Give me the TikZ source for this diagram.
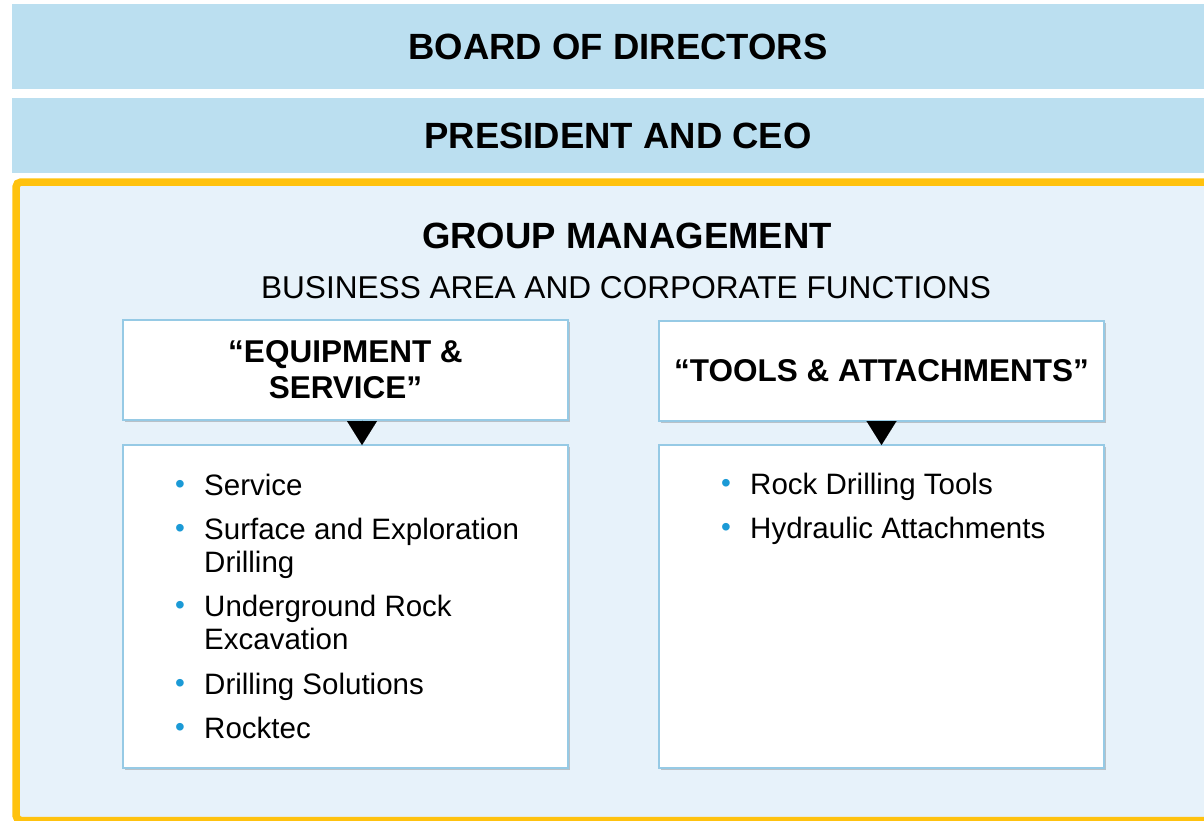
\documentclass[tikz,border=0pt]{standalone}
\usepackage{fontspec}
\setmainfont{Liberation Sans}
\usepackage{tikz}
\usetikzlibrary{arrows.meta,shadows}

\definecolor{barblue}{HTML}{BBDFF0}
\definecolor{gmfill}{HTML}{E7F2FA}
\definecolor{gmyellow}{HTML}{FFC20E}
\definecolor{boxline}{HTML}{96CAE5}
\definecolor{bulletblue}{HTML}{1B9AD6}

\newcommand{\bul}{\makebox[29pt][l]{\raisebox{2pt}{\textcolor{bulletblue}{\fontsize{28}{28}\selectfont\textbullet}}}}
\newcommand{\ind}{\hspace*{29pt}}

\begin{document}
\begin{tikzpicture}[x=1pt,y=-1pt,
    bar/.style={fill=barblue, minimum width=1212, inner sep=0, outer sep=0,
        font=\bfseries\fontsize{36.5}{40}\selectfont},
    unitbox/.style={draw=boxline, line width=2.6, fill=white, outer sep=0,
        minimum width=445, drop shadow={shadow xshift=2pt, shadow yshift=-2pt, fill=black, opacity=0.2}},
    items/.style={align=left, inner sep=0, font=\fontsize{29.5}{33.2}\selectfont},
    tri/.style={-{Triangle[width=30pt,length=24pt]}, line width=0.01pt}]
    \useasboundingbox (0,0) rectangle (1204,820);
    \clip (0,0) rectangle (1204,820);

    \node[bar, minimum height=85] (board) at (618,46.5) {BOARD OF DIRECTORS};
    \node[bar, minimum height=75] (ceo) at (618,135.5) {PRESIDENT AND CEO};

    % group management frame
    \draw[line width=7.5, draw=gmyellow, fill=gmfill, rounded corners=5] (16,182) rectangle (1240,820.5);
    \node[anchor=base, font=\bfseries\fontsize{36.5}{40}\selectfont] (gm) at (627,248) {GROUP MANAGEMENT};
    \node[anchor=base, font=\fontsize{31.6}{34}\selectfont] (functions) at (626,298) {BUSINESS AREA AND CORPORATE FUNCTIONS};

    % business areas
    \node[unitbox, minimum height=100, align=center, font=\bfseries\fontsize{31.5}{36}\selectfont]
        (eqhead) at (345.5,370) {“EQUIPMENT \&\\SERVICE”};
    \node[unitbox, minimum height=100, font=\bfseries\fontsize{31.5}{36}\selectfont]
        (tahead) at (881.5,371) {“TOOLS \& ATTACHMENTS”};
    \node[unitbox, minimum height=323] (eqlist) at (345.5,606.5) {};
    \node[unitbox, minimum height=323] (talist) at (881.5,606.5) {};

    \draw[tri] ([xshift=16.5]eqhead.south) -- ([xshift=16.5]eqlist.north);
    \draw[tri] (tahead.south) -- (talist.north);

    % base anchor = last line
    \node[items, anchor=base west] (eqitems) at (175,738.2)
        {\bul Service\\[11pt]\bul Surface and Exploration\\\ind Drilling\\[11pt]\bul Underground Rock\\\ind Excavation\\[11pt]\bul Drilling Solutions\\[11pt]\bul Rocktec};
    \node[items, anchor=base west] (taitems) at (721,538.2)
        {\bul Rock Drilling Tools\\[11pt]\bul Hydraulic Attachments};
\end{tikzpicture}
\end{document}
